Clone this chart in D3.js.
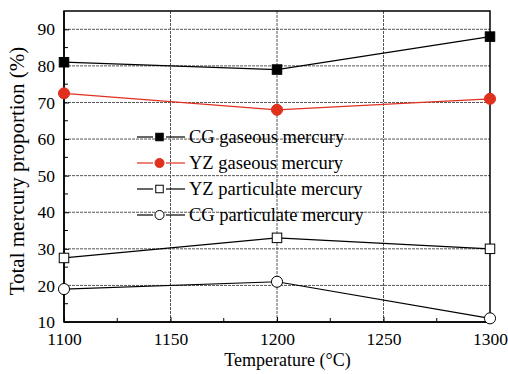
<!DOCTYPE html>
<html lang="en">
<head>
<meta charset="UTF-8">
<title>Mercury proportion</title>
<script src="https://d3js.org/d3.v7.min.js"></script>
</head>
<body style="margin:0">
<script>
    var temps = [1100, 1200, 1300];
    var cgGas = [81, 79, 88];
    var yzGas = [72.5, 68, 71];
    var yzPart = [27.5, 33, 30];
    var cgPart = [19, 21, 11];
    var xTicks = [1100, 1150, 1200, 1250, 1300];
    var yTicks = [10, 20, 30, 40, 50, 60, 70, 80, 90];

    var series = [
        {name: "CG gaseous mercury", values: cgGas, shape: "square", fill: "#000", stroke: "#000"},
        {name: "YZ gaseous mercury", values: yzGas, shape: "circle", fill: "#e0301e", stroke: "#e0301e"},
        {name: "YZ particulate mercury", values: yzPart, shape: "square", fill: "#fff", stroke: "#000"},
        {name: "CG particulate mercury", values: cgPart, shape: "circle", fill: "#fff", stroke: "#000"}
    ];

    var serif = "Liberation Serif";

    var margin = {top: 11, right: 18, bottom: 52, left: 64},
        width = 508 - margin.left - margin.right,
        height = 374 - margin.top - margin.bottom;

    var root = d3.select("body").append("svg")
        .attr("width", 508)
        .attr("height", 374)
        .attr("font-family", serif);
    var svg = root.append("g")
        .attr("transform", "translate(" + margin.left + "," + margin.top + ")");

    var x = d3.scaleLinear().domain([1100, 1300]).range([0, width]);
    var y = d3.scaleLinear().domain([10, 95]).range([height, 0]);

    // grid
    svg.append("g").selectAll("line.h")
        .data(yTicks.slice(1))
        .enter().append("line")
        .attr("x1", 0).attr("x2", width)
        .attr("y1", d => y(d)).attr("y2", d => y(d))
        .attr("stroke", "#555").attr("stroke-width", 1)
        .attr("stroke-dasharray", "3,1");
    svg.append("g").selectAll("line.v")
        .data(xTicks.slice(1, -1))
        .enter().append("line")
        .attr("y1", 0).attr("y2", height)
        .attr("x1", d => x(d)).attr("x2", d => x(d))
        .attr("stroke", "#555").attr("stroke-width", 1)
        .attr("stroke-dasharray", "3,1");

    // axes, ticks inward
    var xAxis = svg.append("g")
        .attr("transform", "translate(0," + height + ")")
        .call(d3.axisBottom(x).tickValues(xTicks).tickSize(-5).tickPadding(11).tickFormat(d3.format("d")));
    var yAxis = svg.append("g")
        .call(d3.axisLeft(y).tickValues(yTicks).tickSize(-5).tickPadding(9));
    [xAxis, yAxis].forEach(function(a) {
        a.attr("font-family", serif).attr("font-size", 17.5);
        a.selectAll("text").attr("font-family", serif).attr("font-size", 17.5);
        a.select(".domain").attr("stroke-width", 1.5);
    });
    yAxis.select(".domain").attr("d", "M0," + height + "V0");
    xAxis.select(".domain").attr("d", "M0,0H" + width);

    // minor ticks
    svg.append("g").selectAll("line")
        .data(d3.range(15, 95, 10))
        .enter().append("line")
        .attr("x1", 0).attr("x2", 4)
        .attr("y1", d => y(d)).attr("y2", d => y(d))
        .attr("stroke", "#000");
    svg.append("g").selectAll("line")
        .data([1125, 1175, 1225, 1275])
        .enter().append("line")
        .attr("y1", height).attr("y2", height - 4)
        .attr("x1", d => x(d)).attr("x2", d => x(d))
        .attr("stroke", "#000");

    // frame
    svg.append("rect")
        .attr("x", 0).attr("y", 0)
        .attr("width", width).attr("height", height)
        .attr("fill", "none").attr("stroke", "#000").attr("stroke-width", 1.5);

    var line = d3.line()
        .x((d, i) => x(temps[i]))
        .y(d => y(d));

    function marker(g, s, cx, cy, size) {
        if (s.shape === "square") {
            g.append("rect")
                .attr("x", cx - size / 2).attr("y", cy - size / 2)
                .attr("width", size).attr("height", size)
                .attr("fill", s.fill).attr("stroke", s.stroke).attr("stroke-width", 1);
        } else {
            g.append("circle")
                .attr("cx", cx).attr("cy", cy).attr("r", size / 2 + 0.8)
                .attr("fill", s.fill).attr("stroke", s.stroke).attr("stroke-width", 1);
        }
    }

    series.forEach(function(s) {
        var g = svg.append("g");
        g.append("path")
            .datum(s.values)
            .attr("d", line)
            .attr("fill", "none")
            .attr("stroke", s.stroke)
            .attr("stroke-width", 1.2);
        s.values.forEach(function(v, i) {
            marker(g, s, x(temps[i]), y(v), 9.5);
        });
    });

    // legend: short line, gap, marker, gap, short line
    var legend = svg.append("g").attr("transform", "translate(73,126)");
    series.forEach(function(s, i) {
        var g = legend.append("g").attr("transform", "translate(0," + (i * 26) + ")");
        [[0, 16], [29, 48]].forEach(function(seg) {
            g.append("line")
                .attr("x1", seg[0]).attr("x2", seg[1])
                .attr("y1", 0).attr("y2", 0)
                .attr("stroke", s.stroke).attr("stroke-width", 1.2);
        });
        marker(g, s, 22.5, 0, 7.5);
        g.append("text")
            .attr("x", 52).attr("y", 0)
            .attr("dy", "0.35em")
            .attr("font-family", serif)
            .attr("font-size", 18.5)
            .text(s.name);
    });

    // axis titles
    svg.append("text")
        .attr("x", (222 + 353) / 2 - margin.left)
        .attr("y", height + 44)
        .attr("text-anchor", "middle")
        .attr("font-family", serif)
        .attr("font-size", 18)
        .text("Temperature (\u00B0C)");

    svg.append("text")
        .attr("transform", "rotate(-90)")
        .attr("x", -(171 - margin.top))
        .attr("y", -40)
        .attr("text-anchor", "middle")
        .attr("font-family", serif)
        .attr("font-size", 21)
        .text("Total mercury proportion (%)");
</script>
</body>
</html>
